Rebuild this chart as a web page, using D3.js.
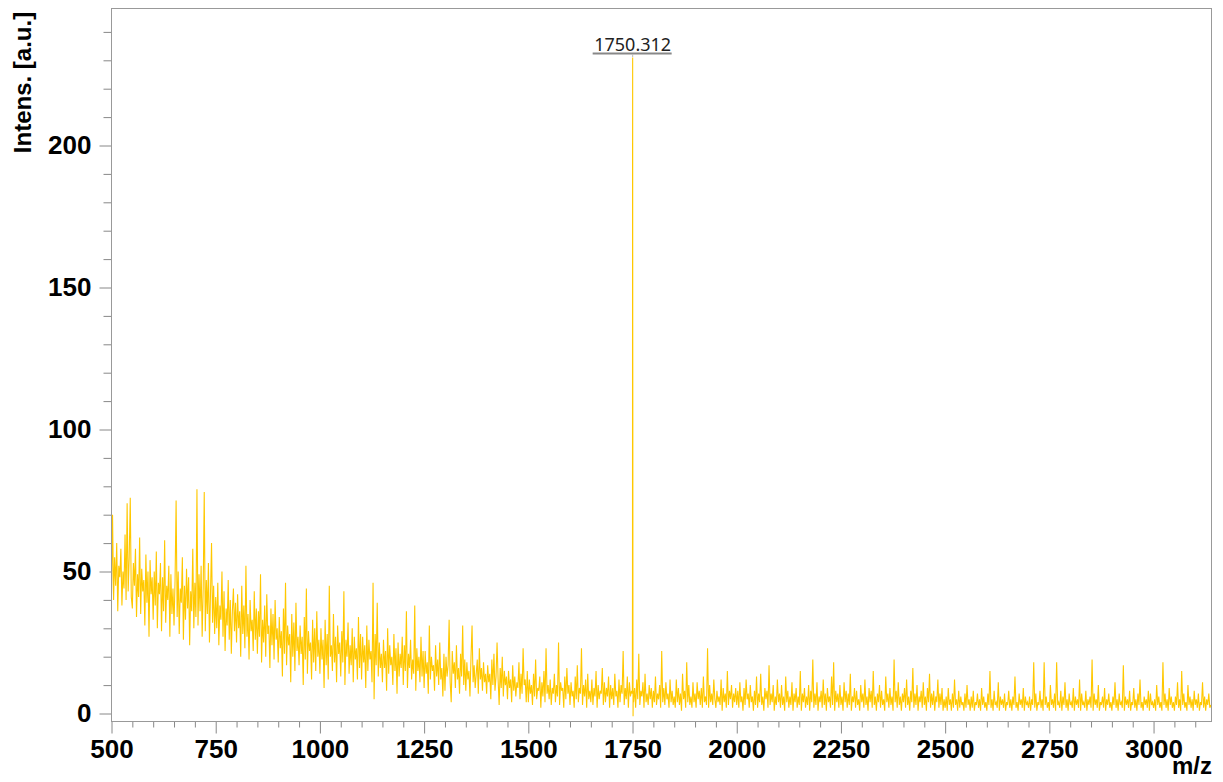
<!DOCTYPE html>
<html>
<head>
<meta charset="utf-8">
<script src="https://cdn.jsdelivr.net/npm/d3@7"></script>
<style>
body { margin: 0; background: #fff; }
.axis text { font-family: "Liberation Sans", Arial, sans-serif; font-weight: bold; font-size: 26px; fill: #000; }
.axis line { stroke: #888; }
</style>
</head>
<body>
<div id="spectrum"></div>
<script>
// intensities, one value every 2.5 m/z
var intens500 = [
    42, 70, 40, 55, 45, 60, 36, 52, 48, 58, 38, 50, 44, 63, 40, 74, 43, 55, 76, 41,
    37, 53, 45, 58, 34, 49, 41, 62, 35, 51, 43, 47, 31, 56, 39, 50, 27, 54, 42, 48,
    33, 50, 38, 57, 30, 46, 42, 53, 29, 48, 36, 61, 32, 45, 40, 52, 27, 49, 35, 44,
    31, 47, 75, 34, 50, 28, 44, 39, 55, 26, 45, 33, 51, 37, 48, 24, 43, 36, 58, 30,
    46, 34, 79, 31, 49, 36, 52, 27, 44, 78, 29, 47, 35, 53, 25, 42, 60, 32, 45, 28,
    41, 30, 46, 24, 38, 33, 50, 27, 43, 22, 37, 31, 47, 26, 40, 21, 36, 44, 29, 39,
    25, 42, 30, 36, 20, 45, 28, 38, 23, 52, 27, 35, 19, 40, 29, 33, 22, 43, 26, 37,
    21, 36, 27, 49, 18, 33, 25, 38, 20, 42, 28, 31, 16, 37, 24, 35, 19, 40, 26, 30,
    18, 34, 23, 29, 13, 37, 21, 46, 17, 31, 24, 28, 11, 35, 20, 32, 15, 39, 22, 27,
    17, 31, 21, 27, 10, 34, 19, 44, 14, 29, 22, 25, 12, 33, 18, 30, 15, 36, 20, 26
];
var intens1000 = [
    14, 30, 19, 26, 9, 33, 17, 28, 12, 45, 20, 24, 15, 35, 18, 27, 11, 31, 21, 25,
    13, 29, 18, 43, 10, 26, 20, 32, 14, 24, 17, 30, 11, 27, 19, 23, 12, 34, 16, 28,
    12, 27, 18, 24, 9, 31, 15, 26, 19, 22, 11, 46, 5, 28, 17, 39, 13, 25, 16, 21,
    11, 26, 16, 22, 8, 30, 14, 24, 17, 20, 10, 28, 15, 23, 7, 25, 13, 21, 16, 27,
    10, 24, 15, 36, 9, 21, 16, 26, 12, 19, 14, 38, 8, 23, 15, 20, 11, 27, 13, 22,
    9, 22, 14, 18, 7, 31, 12, 20, 15, 17, 8, 24, 13, 19, 10, 25, 12, 16, 6, 21,
    8, 20, 13, 17, 33, 11, 4, 22, 14, 18, 9, 24, 12, 16, 7, 21, 13, 31, 10, 19,
    8, 18, 12, 15, 6, 20, 31, 11, 17, 9, 14, 19, 7, 23, 12, 16, 8, 18, 11, 14,
    7, 17, 11, 14, 5, 19, 10, 21, 8, 13, 25, 12, 3, 16, 9, 20, 6, 15, 10, 13,
    5, 15, 9, 12, 4, 17, 8, 13, 6, 11, 9, 18, 5, 14, 7, 23, 10, 12, 4, 15
];
var intens1500 = [
    4, 12, 7, 10, 3, 14, 6, 19, 5, 9, 8, 13, 2, 11, 6, 15, 4, 23, 7, 10,
    5, 12, 3, 9, 7, 14, 4, 10, 6, 25, 3, 11, 8, 9, 2, 13, 5, 16, 7, 10,
    3, 11, 6, 8, 2, 13, 5, 17, 4, 9, 7, 23, 3, 10, 6, 12, 2, 14, 5, 8,
    4, 12, 3, 9, 6, 15, 2, 10, 5, 8, 7, 16, 3, 11, 4, 9, 6, 13, 2, 10,
    5, 9, 3, 14, 6, 8, 2, 12, 4, 10, 7, 22, 3, 9, 5, 13, 2, 11, 6, 8
];
// the peak itself, finer steps
var peakMz = [1749.6, 1749.9, 1750.1, 1750.312, 1750.5, 1750.7, 1751.0, 1751.3, 1751.7];
var peakInt = [7, 45, 197, 231, 137, 107, 28, -1, 8];
var intens1752 = [
    4, 9, 2, 12, 5, 21, 3, 8, 6, 11, 2, 14, 4, 7, 3, 10, 5, 9, 2,
    8, 4, 13, 3, 7, 5, 10, 2, 22, 4, 9, 3, 11, 5, 7, 2, 12, 4, 8, 3,
    6, 2, 12, 4, 9, 3, 7, 1, 14, 5, 8, 2, 18, 4, 10, 3, 6, 2, 11, 4,
    7, 2, 11, 5, 8, 3, 9, 2, 13, 4, 6, 3, 23, 2, 10, 4, 7, 3, 12, 5,
    2, 8, 4, 6, 3, 12, 1, 9, 4, 7, 2, 15, 3, 8, 5, 10, 2, 7, 4, 9
];
var intens2000 = [
    3, 8, 2, 11, 4, 6, 1, 9, 3, 12, 5, 7, 2, 10, 4, 6, 1, 8, 3, 13,
    2, 7, 4, 14, 3, 6, 1, 9, 5, 8, 2, 17, 3, 7, 4, 10, 1, 6, 3, 12,
    4, 7, 2, 10, 3, 6, 1, 13, 4, 8, 2, 6, 3, 11, 1, 7, 4, 9, 2, 6,
    3, 15, 1, 7, 4, 9, 2, 6, 3, 10, 1, 8, 4, 19, 2, 7, 3, 11, 1, 6,
    4, 8, 2, 12, 3, 7, 1, 9, 4, 6, 2, 13, 3, 18, 1, 8, 4, 7, 2, 10,
    3, 6, 1, 11, 4, 8, 2, 7, 3, 14, 1, 6, 4, 9, 2, 8, 3, 5, 1, 10,
    4, 7, 2, 12, 3, 6, 1, 9, 4, 8, 2, 15, 3, 6, 1, 7, 4, 10, 2, 8,
    3, 5, 1, 13, 4, 7, 2, 9, 3, 6, 1, 19, 4, 8, 2, 11, 3, 6, 1, 7,
    4, 9, 2, 12, 3, 6, 1, 8, 4, 16, 2, 7, 3, 10, 1, 6, 4, 8, 2, 11,
    3, 6, 1, 9, 4, 14, 2, 7, 3, 8, 1, 6, 4, 12, 2, 7, 3, 9, 1, 5
];
var intens2500 = [
    2, 6, 1, 9, 3, 5, 1, 7, 2, 12, 3, 5, 1, 8, 2, 6, 3, 4, 1, 7,
    2, 10, 3, 5, 1, 6, 2, 8, 1, 4, 3, 7, 2, 5, 1, 9, 3, 6, 2, 4,
    1, 7, 3, 15, 2, 5, 1, 8, 3, 4, 2, 11, 1, 6, 3, 5, 2, 7, 1, 4,
    3, 8, 2, 5, 1, 6, 3, 13, 2, 4, 1, 7, 3, 5, 2, 9, 1, 6, 3, 4,
    2, 6, 1, 5, 3, 18, 2, 7, 1, 4, 3, 8, 2, 5, 1, 18, 3, 6, 2, 4,
    1, 10, 3, 5, 2, 7, 1, 18, 3, 4, 2, 8, 1, 6, 3, 11, 2, 5, 1, 7,
    3, 4, 2, 9, 1, 6, 3, 5, 2, 12, 1, 7, 3, 4, 2, 8, 1, 5, 3, 6,
    2, 19, 1, 7, 3, 5, 2, 10, 1, 4, 3, 6, 2, 9, 1, 5, 3, 7, 2, 4,
    1, 6, 3, 11, 2, 5, 1, 7, 3, 4, 2, 17, 1, 6, 3, 5, 2, 8, 1, 4,
    3, 9, 2, 5, 1, 7, 3, 12, 2, 4, 1, 6, 3, 5, 2, 8, 1, 7, 3, 4,
    2, 5, 1, 10, 3, 6, 2, 4, 1, 18, 3, 7, 2, 5, 1, 9, 3, 6, 2, 4,
    1, 6, 3, 11, 2, 5, 1, 15, 3, 7, 2, 4, 1, 10, 3, 6, 2, 5, 1, 8,
    3, 5, 2, 7, 1, 4, 3, 11, 2, 6, 1, 5, 3, 7, 2, 3
];
var mzStep = 2.5;
var segments = [
    {start: 500, values: intens500},
    {start: 1000, values: intens1000},
    {start: 1500, values: intens1500},
    {start: 1752.5, values: intens1752},
    {start: 2000, values: intens2000},
    {start: 2500, values: intens2500}
];
var peakLabel = "1750.312";
var peakLabelMz = 1750.312;
var xMajor = [500, 750, 1000, 1250, 1500, 1750, 2000, 2250, 2500, 2750, 3000];
var yMajor = [0, 50, 100, 150, 200];

var width = 1223;
var height = 782;
var plotLeft = 111.5, plotRight = 1211.5, plotTop = 8.5, plotBottom = 721.5;

var data = [];
segments.forEach(function(s) {
    s.values.forEach(function(v, i) {
        data.push({mz: s.start + i * mzStep, y: v});
    });
});
peakMz.forEach(function(m, i) { data.push({mz: m, y: peakInt[i]}); });
data.sort(function(a, b) { return a.mz - b.mz; });

var svg = d3.select("#spectrum")
    .append("svg")
    .attr("width", width)
    .attr("height", height);

var xScale = d3.scaleLinear().domain([500, 3139]).range([plotLeft, plotRight]);
var yScale = d3.scaleLinear().domain([0, 200]).range([713.5, 145.5]);

svg.append("clipPath").attr("id", "plotClip")
    .append("rect")
    .attr("x", plotLeft).attr("y", plotTop)
    .attr("width", plotRight - plotLeft).attr("height", plotBottom - plotTop);

// minor ticks
var xMinor = d3.range(500, 3140, 50).filter(function(v) { return xMajor.indexOf(v) < 0; });
var yMinor = d3.range(0, 250, 10).filter(function(v) { return yMajor.indexOf(v) < 0; });

svg.append("g").attr("class", "axis")
    .attr("transform", "translate(0," + plotBottom + ")")
    .call(d3.axisBottom(xScale).tickValues(xMinor).tickSize(6).tickFormat(""))
    .select(".domain").remove();

svg.append("g").attr("class", "axis")
    .attr("transform", "translate(0," + plotBottom + ")")
    .call(d3.axisBottom(xScale).tickValues(xMajor).tickSize(12).tickPadding(6).tickFormat(d3.format("d")))
    .select(".domain").remove();

svg.append("g").attr("class", "axis")
    .attr("transform", "translate(" + plotLeft + ",0)")
    .call(d3.axisLeft(yScale).tickValues(yMinor).tickSize(8).tickFormat(""))
    .select(".domain").remove();

svg.append("g").attr("class", "axis")
    .attr("transform", "translate(" + plotLeft + ",0)")
    .call(d3.axisLeft(yScale).tickValues(yMajor).tickSize(12).tickPadding(8).tickFormat(d3.format("d")))
    .select(".domain").remove();

// spectrum
var line = d3.line()
    .x(function(d) { return xScale(d.mz); })
    .y(function(d) { return yScale(d.y); });

svg.append("path")
    .datum(data)
    .attr("clip-path", "url(#plotClip)")
    .attr("fill", "none")
    .attr("stroke", "#ffc800")
    .attr("stroke-width", 1.1)
    .attr("d", line);

// frame
svg.append("rect")
    .attr("x", plotLeft).attr("y", plotTop)
    .attr("width", plotRight - plotLeft).attr("height", plotBottom - plotTop)
    .attr("fill", "none")
    .attr("stroke", "#999");

// peak label
var px = xScale(peakLabelMz);
svg.append("text")
    .attr("x", px).attr("y", 50.5)
    .attr("text-anchor", "middle")
    .style("font-family", "'Noto Sans', sans-serif")
    .style("font-size", "18px")
    .style("fill", "#222")
    .text(peakLabel);
svg.append("line")
    .attr("x1", px - 40).attr("x2", px + 39)
    .attr("y1", 53.5).attr("y2", 53.5)
    .attr("stroke", "#888").attr("stroke-width", 2);
svg.append("line")
    .attr("x1", px).attr("x2", px)
    .attr("y1", 54).attr("y2", 57)
    .attr("stroke", "#bbb");

// axis titles
svg.append("text")
    .attr("transform", "translate(30.5,82.5) rotate(-90)")
    .attr("text-anchor", "middle")
    .style("font-family", "'Liberation Sans', Arial, sans-serif")
    .style("font-weight", "bold")
    .style("font-size", "24px")
    .text("Intens. [a.u.]");

svg.append("text")
    .attr("x", 1212).attr("y", 774)
    .attr("text-anchor", "end")
    .style("font-family", "'Liberation Sans', Arial, sans-serif")
    .style("font-weight", "bold")
    .style("font-size", "24px")
    .text("m/z");
</script>
</body>
</html>
